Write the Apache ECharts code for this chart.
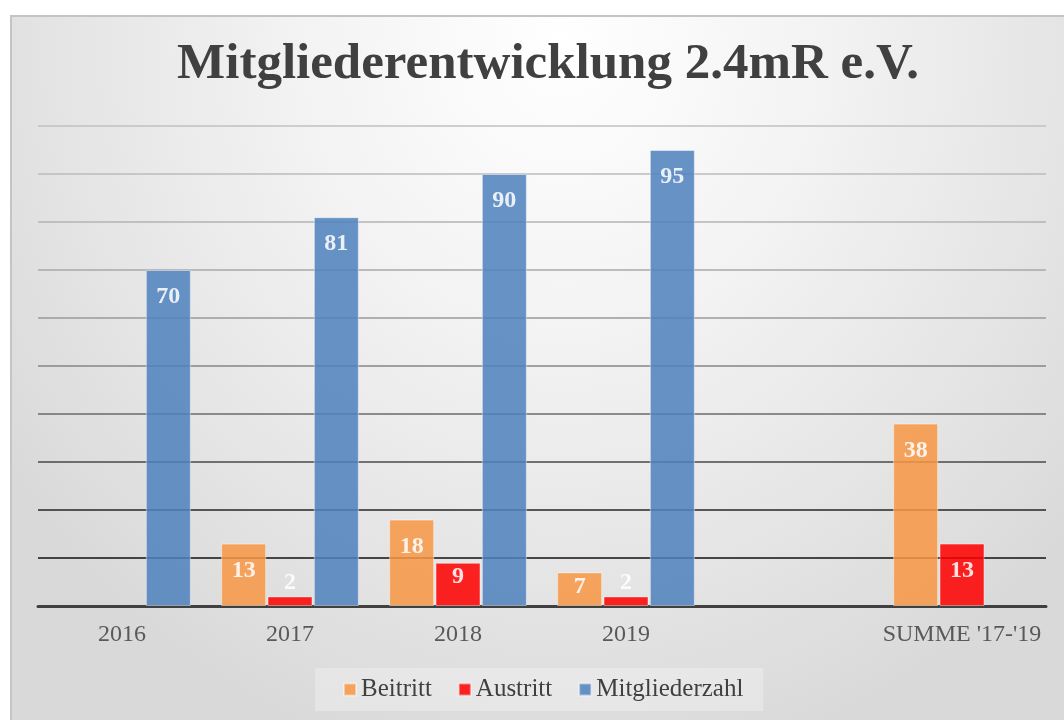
<!DOCTYPE html>
<html>
<head>
<meta charset="utf-8">
<script src="https://cdn.jsdelivr.net/npm/echarts@6/dist/echarts.min.js"></script>
<style>
    html, body { margin: 0; padding: 0; background: #fff; overflow: hidden; }
    .frame {
        position: absolute; left: 10px; top: 15px;
        width: 1100px; height: 740px;
        border-left: 2px solid #c4c4c4; border-top: 2px solid #c4c4c4;
        background: radial-gradient(ellipse 62% 100% at 50% 4%, #ffffff 0%, #f3f3f3 38%, #e6e6e6 70%, #d9d9d9 100%);
    }
    #chart { position: absolute; left: 0; top: 0; width: 1064px; height: 720px; }
</style>
</head>
<body>
<div class="frame"></div>
<div id="chart"></div>
<script>
    // values
    const categories = ['2016', '2017', '2018', '2019', '', "SUMME '17-'19"]
    const beitritt = [null, 13, 18, 7, null, 38]
    const austritt = [null, 2, 9, 2, null, 13]
    const mitgliederzahl = [70, 81, 90, 95, null, null]
    const yTicks = [0, 10, 20, 30, 40, 50, 60, 70, 80, 90, 100]

    const serif = '"Liberation Serif", "DejaVu Serif", serif'
    // gridline colour from 0 upwards, dark at the bottom, light at the top
    const gridColors = ['#404040', '#101010', '#262626', '#484848', '#6a6a6a', '#868686',
        '#9a9a9a', '#a8a8a8', '#b3b3b3', '#bbbbbb', '#c0c0c0']

    const myChart = echarts.init(document.getElementById('chart'))

    function barData(values) {
        return values.map(v => {
            if (v === null) return '-'
            let label = {}
            if (v < 5) {
                label = { position: 'top', distance: 2 }
            } else if (v < 10) {
                label = { distance: 2 }
            }
            return { value: v, label: label }
        })
    }

    function makeSeries(name, values, color) {
        return {
            name: name,
            type: 'bar',
            barWidth: 45,
            barGap: '3%',
            itemStyle: {
                color: color,
                opacity: 0.86,
                borderColor: 'rgba(255,255,255,0.5)',
                borderWidth: 1
            },
            label: {
                show: true,
                position: 'insideTop',
                distance: 15,
                color: '#ffffff',
                fontFamily: serif,
                fontWeight: 'bold',
                fontSize: 24
            },
            data: barData(values)
        }
    }

    const option = {
        animation: false,
        title: {
            text: 'Mitgliederentwicklung 2.4mR e.V.',
            left: 543,
            top: 34,
            textAlign: 'center',
            textStyle: {
                fontFamily: serif,
                fontWeight: 'bold',
                fontSize: 51,
                color: '#404040'
            }
        },
        grid: {
            left: 38,
            right: 18,
            top: 126,
            bottom: 114,
            containLabel: false
        },
        legend: {
            left: 315,
            top: 668,
            padding: [9, 20, 9, 28],
            backgroundColor: 'rgba(255,255,255,0.28)',
            itemWidth: 12,
            itemHeight: 12,
            itemGap: 26,
            icon: 'rect',
            textStyle: {
                fontFamily: serif,
                fontSize: 25,
                color: '#404040'
            },
            data: ['Beitritt', 'Austritt', 'Mitgliederzahl']
        },
        xAxis: {
            type: 'category',
            data: categories,
            axisLine: {
                lineStyle: { color: '#404040', width: 3 }
            },
            axisTick: { show: false },
            axisLabel: {
                interval: 0,
                margin: 17,
                fontFamily: serif,
                fontSize: 24,
                color: '#595959'
            }
        },
        yAxis: {
            type: 'value',
            min: yTicks[0],
            max: yTicks[yTicks.length - 1],
            interval: 10,
            axisLine: { show: false },
            axisTick: { show: false },
            axisLabel: { show: false },
            splitLine: {
                show: true,
                lineStyle: { color: gridColors, width: 1.6 }
            }
        },
        series: [
            makeSeries('Beitritt', beitritt, '#F79646'),
            makeSeries('Austritt', austritt, '#FF0000'),
            makeSeries('Mitgliederzahl', mitgliederzahl, '#4F81BD')
        ]
    }

    myChart.setOption(option)
</script>
</body>
</html>
